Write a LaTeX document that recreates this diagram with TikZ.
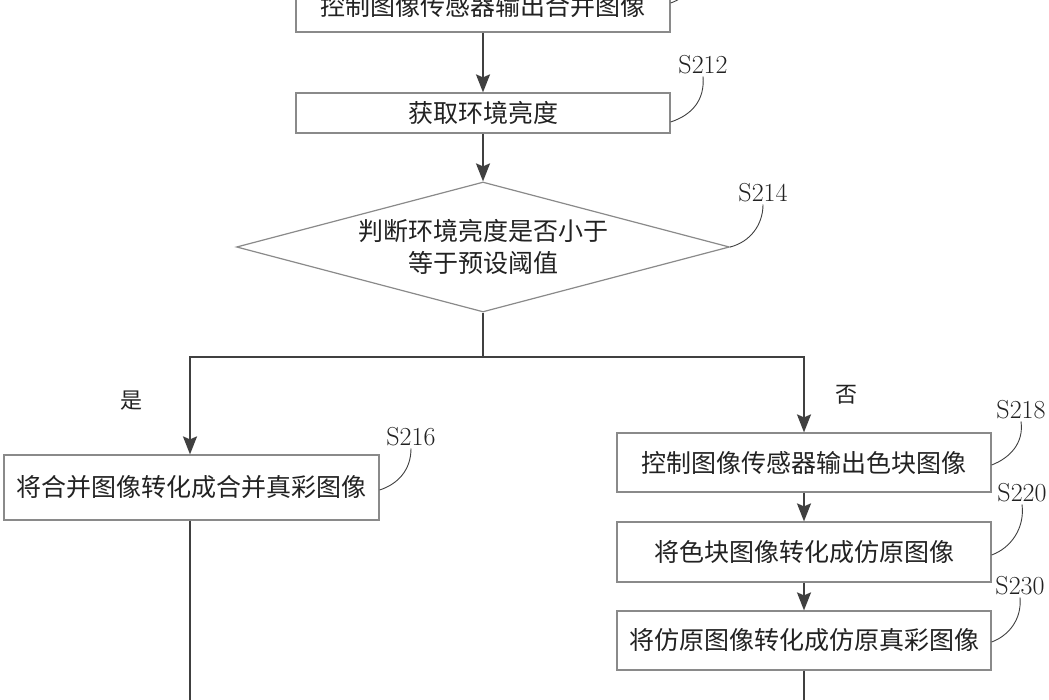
\documentclass[tikz,border=0pt]{standalone}
\usepackage{fontspec}
\newfontfamily\cjkfont{Noto Sans CJK SC}
\usetikzlibrary{shapes.geometric,arrows.meta,calc}
\definecolor{boxgray}{HTML}{8A8A8A}
\definecolor{linegray}{HTML}{404040}
\definecolor{txt}{HTML}{222222}
\begin{document}
\begin{tikzpicture}[x=1pt,y=-1pt,
  box/.style={draw=boxgray, line width=1.2pt, minimum width=374pt, inner sep=0pt,
    text=txt, font=\cjkfont\fontsize{25}{30}\selectfont},
  dia/.style={draw=boxgray, line width=1.2pt, diamond, shape aspect=3.8, inner sep=0pt,
    minimum width=493pt, minimum height=130pt, align=center,
    text=txt, font=\cjkfont\fontsize{25}{32}\selectfont},
  arr/.style={draw=linegray, line width=1.8pt, -{Stealth[length=18pt,width=14pt,inset=3pt]}},
  ln/.style={draw=linegray, line width=1.8pt},
  lead/.style={draw=linegray, line width=0.9pt},
  lab/.style={inner sep=2pt, text=txt, font=\fontsize{26}{28}\selectfont},
  yn/.style={inner sep=0pt, text=txt, font=\cjkfont\fontsize{22}{24}\selectfont}]
\useasboundingbox (0,0) rectangle (1049,700);
\clip (0,0) rectangle (1049,700);
\fill[white] (0,0) rectangle (1049,700);

% nodes
\node[box, minimum height=52pt] (b210) at (483,6) {控制图像传感器输出合并图像};
\node[box, minimum height=40pt] (b212) at (483,113) {获取环境亮度};
\node[dia] (d214) at (483,247) {判断环境亮度是否小于\\等于预设阈值};
\node[box, minimum width=375pt, minimum height=65pt] (b216) at (191.5,487.5) {将合并图像转化成合并真彩图像};
\node[box, minimum height=59pt] (b218) at (804,462.5) {控制图像传感器输出色块图像};
\node[box, minimum height=60pt] (b220) at (804,552) {将色块图像转化成仿原图像};
\node[box, minimum height=59pt] (b230) at (804,640.5) {将仿原图像转化成仿原真彩图像};

\node[lab] (l212) at (703,65) {S212};
\node[lab] (l214) at (763,193) {S214};
\node[lab] (l216) at (411,437) {S216};
\node[lab] (l218) at (1021,410) {S218};
\node[lab] (l220) at (1022,493) {S220};
\node[lab] (l230) at (1020,586) {S230};

\node[yn] (yes) at (131,401) {是};
\node[yn] (no) at (846,395) {否};

\coordinate (j) at (483,357);
\coordinate (e216) at (190,710);
\coordinate (e230) at (804,710);
\coordinate (t210) at (692,-12);

% connectors
\draw[arr] (b210.south) -- (b212.north);
\draw[arr] (b212.south) -- (d214.north);
\draw[ln] (d214.south) -- (j);
\draw[arr] (j) -| ([xshift=-1.5pt]b216.north);
\draw[arr] (j) -| (b218.north);
\draw[arr] (b218.south) -- (b220.north);
\draw[arr] (b220.south) -- (b230.north);
\draw[ln] ([xshift=-1.5pt]b216.south) -- (e216);
\draw[ln] (b230.south) -- (e230);

% leaders
\draw[lead] ([yshift=3pt]b210.east) .. controls (680,0) and (686,-6) .. (t210);
\draw[lead] ([yshift=-9pt]b212.east) .. controls (692,115) and (705,100) .. (l212.south);
\draw[lead] (d214.east) .. controls (750,242) and (763,225) .. (l214.south);
\draw[lead] ([yshift=-2.5pt]b216.east) .. controls (398,484) and (411,470) .. (l216.south);
\draw[lead] ([yshift=-2.5pt]b218.east) .. controls (1010,458) and (1024,443) .. (l218.south);
\draw[lead] ([yshift=-3pt]b220.east) .. controls (1011,548) and (1025,528) .. (l220.south);
\draw[lead] ([yshift=-1.5pt]b230.east) .. controls (1008,636) and (1022,620) .. (l230.south);
\end{tikzpicture}
\end{document}
